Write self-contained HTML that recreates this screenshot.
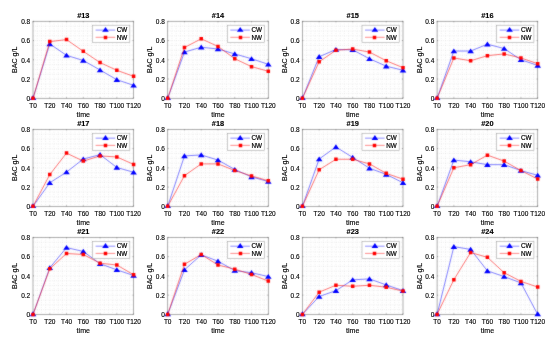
<!DOCTYPE html>
<html><head><meta charset="utf-8"><style>
html,body{margin:0;padding:0;background:#fff;}
svg{display:block;will-change:transform;}
text{font-family:"Liberation Sans", sans-serif;fill:#000;stroke:#000;stroke-width:0.13px;}
.lt{font-size:6.3px;stroke-width:0.2px;}
.ti{font-size:7.4px;font-weight:bold;text-anchor:middle;}
.xt{font-size:6.5px;text-anchor:middle;}
.yt{font-size:6.5px;text-anchor:end;}
.xl,.yl{font-size:7.1px;text-anchor:middle;}
.gr{stroke:#cdcdcd;stroke-width:0.55;fill:none;}
.bx{fill:none;stroke:#8c8c8c;stroke-width:0.7;}
.tk{stroke:#707070;stroke-width:0.6;fill:none;}
.lb{fill:none;stroke:#00f;stroke-width:0.5;}
.lr{fill:none;stroke:#f00;stroke-width:0.55;}
.mb{fill:#00f;}
.mr{fill:#f00;}
.lg{fill:#fff;stroke:#a0a0a0;stroke-width:0.55;}
.llb{stroke:#00f;stroke-width:0.45;}
.llr{stroke:#f00;stroke-width:0.45;}
</style></head><body>
<svg width="550" height="344" viewBox="0 0 550 344">
<defs><filter id="bl" color-interpolation-filters="sRGB" x="0" y="0" width="550" height="344" filterUnits="userSpaceOnUse"><feConvolveMatrix order="3" kernelMatrix="1 2 1 2 20 2 1 2 1" divisor="32" edgeMode="duplicate" preserveAlpha="false"/></filter></defs>
<rect width="550" height="344" fill="#fff"/>
<g filter="url(#bl)">
<g><path class="gr" stroke-dasharray="0.6 1.81" d="M37.19 21.3V98.3M41.38 21.3V98.3M45.57 21.3V98.3M49.77 21.3V98.3M53.96 21.3V98.3M58.15 21.3V98.3M62.34 21.3V98.3M66.53 21.3V98.3M70.72 21.3V98.3M74.92 21.3V98.3M79.11 21.3V98.3M83.3 21.3V98.3M87.49 21.3V98.3M91.68 21.3V98.3M95.88 21.3V98.3M100.07 21.3V98.3M104.26 21.3V98.3M108.45 21.3V98.3M112.64 21.3V98.3M116.83 21.3V98.3M121.02 21.3V98.3M125.22 21.3V98.3M129.41 21.3V98.3"/><path class="gr" stroke-dasharray="0.6 1.5" d="M33 26.11H133.6M33 30.93H133.6M33 35.74H133.6M33 40.55H133.6M33 45.36H133.6M33 50.17H133.6M33 54.99H133.6M33 59.8H133.6M33 64.61H133.6M33 69.42H133.6M33 74.24H133.6M33 79.05H133.6M33 83.86H133.6M33 88.67H133.6M33 93.49H133.6"/><rect class="bx" x="33" y="21.3" width="100.6" height="77"/><path class="tk" d="M33 98.3v-1M33 21.3v1M49.77 98.3v-1M49.77 21.3v1M66.53 98.3v-1M66.53 21.3v1M83.3 98.3v-1M83.3 21.3v1M100.07 98.3v-1M100.07 21.3v1M116.83 98.3v-1M116.83 21.3v1M133.6 98.3v-1M133.6 21.3v1M33 21.3h1M133.6 21.3h-1M33 40.55h1M133.6 40.55h-1M33 59.8h1M133.6 59.8h-1M33 79.05h1M133.6 79.05h-1M33 98.3h1M133.6 98.3h-1"/><polyline class="lb" points="33,98.3 49.77,43.92 66.53,55.37 83.3,60.47 100.07,70 116.83,79.72 133.6,85.31"/><path class="mb" d="M33 95.2L36.3 100.05L29.7 100.05ZM49.77 41.32L53.07 46.17L46.47 46.17ZM66.53 52.77L69.83 57.62L63.23 57.62ZM83.3 57.87L86.6 62.72L80 62.72ZM100.07 67.4L103.37 72.25L96.77 72.25ZM116.83 77.12L120.13 81.97L113.53 81.97ZM133.6 82.71L136.9 87.56L130.3 87.56Z"/><polyline class="lr" points="33,98.3 49.77,41.61 66.53,39.59 83.3,51.33 100.07,62.59 116.83,70.29 133.6,76.35"/><path class="mr" d="M31.25 96.55h3.5v3.5h-3.5ZM48.02 39.86h3.5v3.5h-3.5ZM64.78 37.84h3.5v3.5h-3.5ZM81.55 49.58h3.5v3.5h-3.5ZM98.32 60.84h3.5v3.5h-3.5ZM115.08 68.54h3.5v3.5h-3.5ZM131.85 74.6h3.5v3.5h-3.5Z"/><rect class="lg" x="92.6" y="25.2" width="37.2" height="17.2"/><path class="llb" d="M95.6 30.1H115.2"/><path class="llr" d="M95.6 37.3H115.2"/><path class="mb" d="M105.5 27L108.8 31.85L102.2 31.85Z"/><path class="mr" d="M103.75 35.75h3.5v3.5h-3.5Z"/></g>
<g><path class="gr" stroke-dasharray="0.6 1.81" d="M171.89 21.3V98.3M176.08 21.3V98.3M180.27 21.3V98.3M184.47 21.3V98.3M188.66 21.3V98.3M192.85 21.3V98.3M197.04 21.3V98.3M201.23 21.3V98.3M205.42 21.3V98.3M209.62 21.3V98.3M213.81 21.3V98.3M218 21.3V98.3M222.19 21.3V98.3M226.38 21.3V98.3M230.57 21.3V98.3M234.77 21.3V98.3M238.96 21.3V98.3M243.15 21.3V98.3M247.34 21.3V98.3M251.53 21.3V98.3M255.72 21.3V98.3M259.92 21.3V98.3M264.11 21.3V98.3"/><path class="gr" stroke-dasharray="0.6 1.5" d="M167.7 26.11H268.3M167.7 30.93H268.3M167.7 35.74H268.3M167.7 40.55H268.3M167.7 45.36H268.3M167.7 50.17H268.3M167.7 54.99H268.3M167.7 59.8H268.3M167.7 64.61H268.3M167.7 69.42H268.3M167.7 74.24H268.3M167.7 79.05H268.3M167.7 83.86H268.3M167.7 88.67H268.3M167.7 93.49H268.3"/><rect class="bx" x="167.7" y="21.3" width="100.6" height="77"/><path class="tk" d="M167.7 98.3v-1M167.7 21.3v1M184.47 98.3v-1M184.47 21.3v1M201.23 98.3v-1M201.23 21.3v1M218 98.3v-1M218 21.3v1M234.77 98.3v-1M234.77 21.3v1M251.53 98.3v-1M251.53 21.3v1M268.3 98.3v-1M268.3 21.3v1M167.7 21.3h1M268.3 21.3h-1M167.7 40.55h1M268.3 40.55h-1M167.7 59.8h1M268.3 59.8h-1M167.7 79.05h1M268.3 79.05h-1M167.7 98.3h1M268.3 98.3h-1"/><polyline class="lb" points="167.7,98.3 184.47,52.1 201.23,47.19 218,49.02 234.77,53.93 251.53,58.74 268.3,64.32"/><path class="mb" d="M167.7 95.2L171 100.05L164.4 100.05ZM184.47 49.5L187.77 54.35L181.17 54.35ZM201.23 44.59L204.53 49.44L197.93 49.44ZM218 46.42L221.3 51.27L214.7 51.27ZM234.77 51.33L238.07 56.18L231.47 56.18ZM251.53 56.14L254.83 60.99L248.23 60.99ZM268.3 61.72L271.6 66.57L265 66.57Z"/><polyline class="lr" points="167.7,98.3 184.47,47.48 201.23,38.82 218,46.42 234.77,58.74 251.53,66.63 268.3,71.25"/><path class="mr" d="M165.95 96.55h3.5v3.5h-3.5ZM182.72 45.73h3.5v3.5h-3.5ZM199.48 37.07h3.5v3.5h-3.5ZM216.25 44.67h3.5v3.5h-3.5ZM233.02 56.99h3.5v3.5h-3.5ZM249.78 64.88h3.5v3.5h-3.5ZM266.55 69.5h3.5v3.5h-3.5Z"/><rect class="lg" x="227.3" y="25.2" width="37.2" height="17.2"/><path class="llb" d="M230.3 30.1H249.9"/><path class="llr" d="M230.3 37.3H249.9"/><path class="mb" d="M240.2 27L243.5 31.85L236.9 31.85Z"/><path class="mr" d="M238.75 35.75h3.5v3.5h-3.5Z"/></g>
<g><path class="gr" stroke-dasharray="0.6 1.81" d="M306.59 21.3V98.3M310.78 21.3V98.3M314.97 21.3V98.3M319.17 21.3V98.3M323.36 21.3V98.3M327.55 21.3V98.3M331.74 21.3V98.3M335.93 21.3V98.3M340.12 21.3V98.3M344.32 21.3V98.3M348.51 21.3V98.3M352.7 21.3V98.3M356.89 21.3V98.3M361.08 21.3V98.3M365.27 21.3V98.3M369.47 21.3V98.3M373.66 21.3V98.3M377.85 21.3V98.3M382.04 21.3V98.3M386.23 21.3V98.3M390.42 21.3V98.3M394.62 21.3V98.3M398.81 21.3V98.3"/><path class="gr" stroke-dasharray="0.6 1.5" d="M302.4 26.11H403M302.4 30.93H403M302.4 35.74H403M302.4 40.55H403M302.4 45.36H403M302.4 50.17H403M302.4 54.99H403M302.4 59.8H403M302.4 64.61H403M302.4 69.42H403M302.4 74.24H403M302.4 79.05H403M302.4 83.86H403M302.4 88.67H403M302.4 93.49H403"/><rect class="bx" x="302.4" y="21.3" width="100.6" height="77"/><path class="tk" d="M302.4 98.3v-1M302.4 21.3v1M319.17 98.3v-1M319.17 21.3v1M335.93 98.3v-1M335.93 21.3v1M352.7 98.3v-1M352.7 21.3v1M369.47 98.3v-1M369.47 21.3v1M386.23 98.3v-1M386.23 21.3v1M403 98.3v-1M403 21.3v1M302.4 21.3h1M403 21.3h-1M302.4 40.55h1M403 40.55h-1M302.4 59.8h1M403 59.8h-1M302.4 79.05h1M403 79.05h-1M302.4 98.3h1M403 98.3h-1"/><polyline class="lb" points="302.4,98.3 319.17,56.72 335.93,49.5 352.7,49.79 369.47,58.74 386.23,66.15 403,70.29"/><path class="mb" d="M302.4 95.2L305.7 100.05L299.1 100.05ZM319.17 54.12L322.47 58.97L315.87 58.97ZM335.93 46.9L339.23 51.75L332.63 51.75ZM352.7 47.19L356 52.04L349.4 52.04ZM369.47 56.14L372.77 60.99L366.17 60.99ZM386.23 63.55L389.53 68.4L382.93 68.4ZM403 67.69L406.3 72.54L399.7 72.54Z"/><polyline class="lr" points="302.4,98.3 319.17,61.82 335.93,50.27 352.7,49.02 369.47,52.1 386.23,60.76 403,67.69"/><path class="mr" d="M300.65 96.55h3.5v3.5h-3.5ZM317.42 60.07h3.5v3.5h-3.5ZM334.18 48.52h3.5v3.5h-3.5ZM350.95 47.27h3.5v3.5h-3.5ZM367.72 50.35h3.5v3.5h-3.5ZM384.48 59.01h3.5v3.5h-3.5ZM401.25 65.94h3.5v3.5h-3.5Z"/><rect class="lg" x="362" y="25.2" width="37.2" height="17.2"/><path class="llb" d="M365 30.1H384.6"/><path class="llr" d="M365 37.3H384.6"/><path class="mb" d="M374.9 27L378.2 31.85L371.6 31.85Z"/><path class="mr" d="M372.75 35.75h3.5v3.5h-3.5Z"/></g>
<g><path class="gr" stroke-dasharray="0.6 1.81" d="M441.29 21.3V98.3M445.48 21.3V98.3M449.67 21.3V98.3M453.87 21.3V98.3M458.06 21.3V98.3M462.25 21.3V98.3M466.44 21.3V98.3M470.63 21.3V98.3M474.82 21.3V98.3M479.02 21.3V98.3M483.21 21.3V98.3M487.4 21.3V98.3M491.59 21.3V98.3M495.78 21.3V98.3M499.97 21.3V98.3M504.17 21.3V98.3M508.36 21.3V98.3M512.55 21.3V98.3M516.74 21.3V98.3M520.93 21.3V98.3M525.12 21.3V98.3M529.32 21.3V98.3M533.51 21.3V98.3"/><path class="gr" stroke-dasharray="0.6 1.5" d="M437.1 26.11H537.7M437.1 30.93H537.7M437.1 35.74H537.7M437.1 40.55H537.7M437.1 45.36H537.7M437.1 50.17H537.7M437.1 54.99H537.7M437.1 59.8H537.7M437.1 64.61H537.7M437.1 69.42H537.7M437.1 74.24H537.7M437.1 79.05H537.7M437.1 83.86H537.7M437.1 88.67H537.7M437.1 93.49H537.7"/><rect class="bx" x="437.1" y="21.3" width="100.6" height="77"/><path class="tk" d="M437.1 98.3v-1M437.1 21.3v1M453.87 98.3v-1M453.87 21.3v1M470.63 98.3v-1M470.63 21.3v1M487.4 98.3v-1M487.4 21.3v1M504.17 98.3v-1M504.17 21.3v1M520.93 98.3v-1M520.93 21.3v1M537.7 98.3v-1M537.7 21.3v1M437.1 21.3h1M537.7 21.3h-1M437.1 40.55h1M537.7 40.55h-1M437.1 59.8h1M537.7 59.8h-1M437.1 79.05h1M537.7 79.05h-1M437.1 98.3h1M537.7 98.3h-1"/><polyline class="lb" points="437.1,98.3 453.87,51.04 470.63,51.04 487.4,44.21 504.17,48.54 520.93,59.8 537.7,65.38"/><path class="mb" d="M437.1 95.2L440.4 100.05L433.8 100.05ZM453.87 48.44L457.17 53.29L450.57 53.29ZM470.63 48.44L473.93 53.29L467.33 53.29ZM487.4 41.61L490.7 46.46L484.1 46.46ZM504.17 45.94L507.47 50.79L500.87 50.79ZM520.93 57.2L524.23 62.05L517.63 62.05ZM537.7 62.78L541 67.63L534.4 67.63Z"/><polyline class="lr" points="437.1,98.3 453.87,57.97 470.63,60.76 487.4,55.66 504.17,53.93 520.93,57.97 537.7,63.65"/><path class="mr" d="M435.35 96.55h3.5v3.5h-3.5ZM452.12 56.22h3.5v3.5h-3.5ZM468.88 59.01h3.5v3.5h-3.5ZM485.65 53.91h3.5v3.5h-3.5ZM502.42 52.18h3.5v3.5h-3.5ZM519.18 56.22h3.5v3.5h-3.5ZM535.95 61.9h3.5v3.5h-3.5Z"/><rect class="lg" x="496.7" y="25.2" width="37.2" height="17.2"/><path class="llb" d="M499.7 30.1H519.3"/><path class="llr" d="M499.7 37.3H519.3"/><path class="mb" d="M509.6 27L512.9 31.85L506.3 31.85Z"/><path class="mr" d="M507.75 35.75h3.5v3.5h-3.5Z"/></g>
<g><path class="gr" stroke-dasharray="0.6 1.81" d="M37.19 129.35V206.35M41.38 129.35V206.35M45.57 129.35V206.35M49.77 129.35V206.35M53.96 129.35V206.35M58.15 129.35V206.35M62.34 129.35V206.35M66.53 129.35V206.35M70.72 129.35V206.35M74.92 129.35V206.35M79.11 129.35V206.35M83.3 129.35V206.35M87.49 129.35V206.35M91.68 129.35V206.35M95.88 129.35V206.35M100.07 129.35V206.35M104.26 129.35V206.35M108.45 129.35V206.35M112.64 129.35V206.35M116.83 129.35V206.35M121.02 129.35V206.35M125.22 129.35V206.35M129.41 129.35V206.35"/><path class="gr" stroke-dasharray="0.6 1.5" d="M33 134.16H133.6M33 138.97H133.6M33 143.79H133.6M33 148.6H133.6M33 153.41H133.6M33 158.22H133.6M33 163.04H133.6M33 167.85H133.6M33 172.66H133.6M33 177.47H133.6M33 182.29H133.6M33 187.1H133.6M33 191.91H133.6M33 196.72H133.6M33 201.54H133.6"/><rect class="bx" x="33" y="129.35" width="100.6" height="77"/><path class="tk" d="M33 206.35v-1M33 129.35v1M49.77 206.35v-1M49.77 129.35v1M66.53 206.35v-1M66.53 129.35v1M83.3 206.35v-1M83.3 129.35v1M100.07 206.35v-1M100.07 129.35v1M116.83 206.35v-1M116.83 129.35v1M133.6 206.35v-1M133.6 129.35v1M33 129.35h1M133.6 129.35h-1M33 148.6h1M133.6 148.6h-1M33 167.85h1M133.6 167.85h-1M33 187.1h1M133.6 187.1h-1M33 206.35h1M133.6 206.35h-1"/><polyline class="lb" points="33,206.35 49.77,182.77 66.53,172.09 83.3,159 100.07,154.66 116.83,167.47 133.6,172.28"/><path class="mb" d="M33 203.25L36.3 208.1L29.7 208.1ZM49.77 180.17L53.07 185.02L46.47 185.02ZM66.53 169.49L69.83 174.34L63.23 174.34ZM83.3 156.4L86.6 161.25L80 161.25ZM100.07 152.06L103.37 156.91L96.77 156.91ZM116.83 164.87L120.13 169.72L113.53 169.72ZM133.6 169.68L136.9 174.53L130.3 174.53Z"/><polyline class="lr" points="33,206.35 49.77,174.59 66.53,153.12 83.3,161.11 100.07,155.91 116.83,156.97 133.6,164.38"/><path class="mr" d="M31.25 204.6h3.5v3.5h-3.5ZM48.02 172.84h3.5v3.5h-3.5ZM64.78 151.37h3.5v3.5h-3.5ZM81.55 159.36h3.5v3.5h-3.5ZM98.32 154.16h3.5v3.5h-3.5ZM115.08 155.22h3.5v3.5h-3.5ZM131.85 162.63h3.5v3.5h-3.5Z"/><rect class="lg" x="92.6" y="133.25" width="37.2" height="17.2"/><path class="llb" d="M95.6 138.15H115.2"/><path class="llr" d="M95.6 145.35H115.2"/><path class="mb" d="M105.5 135.05L108.8 139.9L102.2 139.9Z"/><path class="mr" d="M103.75 143.75h3.5v3.5h-3.5Z"/></g>
<g><path class="gr" stroke-dasharray="0.6 1.81" d="M171.89 129.35V206.35M176.08 129.35V206.35M180.27 129.35V206.35M184.47 129.35V206.35M188.66 129.35V206.35M192.85 129.35V206.35M197.04 129.35V206.35M201.23 129.35V206.35M205.42 129.35V206.35M209.62 129.35V206.35M213.81 129.35V206.35M218 129.35V206.35M222.19 129.35V206.35M226.38 129.35V206.35M230.57 129.35V206.35M234.77 129.35V206.35M238.96 129.35V206.35M243.15 129.35V206.35M247.34 129.35V206.35M251.53 129.35V206.35M255.72 129.35V206.35M259.92 129.35V206.35M264.11 129.35V206.35"/><path class="gr" stroke-dasharray="0.6 1.5" d="M167.7 134.16H268.3M167.7 138.97H268.3M167.7 143.79H268.3M167.7 148.6H268.3M167.7 153.41H268.3M167.7 158.22H268.3M167.7 163.04H268.3M167.7 167.85H268.3M167.7 172.66H268.3M167.7 177.47H268.3M167.7 182.29H268.3M167.7 187.1H268.3M167.7 191.91H268.3M167.7 196.72H268.3M167.7 201.54H268.3"/><rect class="bx" x="167.7" y="129.35" width="100.6" height="77"/><path class="tk" d="M167.7 206.35v-1M167.7 129.35v1M184.47 206.35v-1M184.47 129.35v1M201.23 206.35v-1M201.23 129.35v1M218 206.35v-1M218 129.35v1M234.77 206.35v-1M234.77 129.35v1M251.53 206.35v-1M251.53 129.35v1M268.3 206.35v-1M268.3 129.35v1M167.7 129.35h1M268.3 129.35h-1M167.7 148.6h1M268.3 148.6h-1M167.7 167.85h1M268.3 167.85h-1M167.7 187.1h1M268.3 187.1h-1M167.7 206.35h1M268.3 206.35h-1"/><polyline class="lb" points="167.7,206.35 184.47,155.91 201.23,154.95 218,160.05 234.77,169.49 251.53,176.9 268.3,181.52"/><path class="mb" d="M167.7 203.25L171 208.1L164.4 208.1ZM184.47 153.31L187.77 158.16L181.17 158.16ZM201.23 152.35L204.53 157.2L197.93 157.2ZM218 157.45L221.3 162.3L214.7 162.3ZM234.77 166.89L238.07 171.74L231.47 171.74ZM251.53 174.3L254.83 179.15L248.23 179.15ZM268.3 178.92L271.6 183.77L265 183.77Z"/><polyline class="lr" points="167.7,206.35 184.47,175.65 201.23,163.9 218,163.9 234.77,170.55 251.53,175.94 268.3,180.75"/><path class="mr" d="M165.95 204.6h3.5v3.5h-3.5ZM182.72 173.9h3.5v3.5h-3.5ZM199.48 162.15h3.5v3.5h-3.5ZM216.25 162.15h3.5v3.5h-3.5ZM233.02 168.8h3.5v3.5h-3.5ZM249.78 174.19h3.5v3.5h-3.5ZM266.55 179h3.5v3.5h-3.5Z"/><rect class="lg" x="227.3" y="133.25" width="37.2" height="17.2"/><path class="llb" d="M230.3 138.15H249.9"/><path class="llr" d="M230.3 145.35H249.9"/><path class="mb" d="M240.2 135.05L243.5 139.9L236.9 139.9Z"/><path class="mr" d="M238.75 143.75h3.5v3.5h-3.5Z"/></g>
<g><path class="gr" stroke-dasharray="0.6 1.81" d="M306.59 129.35V206.35M310.78 129.35V206.35M314.97 129.35V206.35M319.17 129.35V206.35M323.36 129.35V206.35M327.55 129.35V206.35M331.74 129.35V206.35M335.93 129.35V206.35M340.12 129.35V206.35M344.32 129.35V206.35M348.51 129.35V206.35M352.7 129.35V206.35M356.89 129.35V206.35M361.08 129.35V206.35M365.27 129.35V206.35M369.47 129.35V206.35M373.66 129.35V206.35M377.85 129.35V206.35M382.04 129.35V206.35M386.23 129.35V206.35M390.42 129.35V206.35M394.62 129.35V206.35M398.81 129.35V206.35"/><path class="gr" stroke-dasharray="0.6 1.5" d="M302.4 134.16H403M302.4 138.97H403M302.4 143.79H403M302.4 148.6H403M302.4 153.41H403M302.4 158.22H403M302.4 163.04H403M302.4 167.85H403M302.4 172.66H403M302.4 177.47H403M302.4 182.29H403M302.4 187.1H403M302.4 191.91H403M302.4 196.72H403M302.4 201.54H403"/><rect class="bx" x="302.4" y="129.35" width="100.6" height="77"/><path class="tk" d="M302.4 206.35v-1M302.4 129.35v1M319.17 206.35v-1M319.17 129.35v1M335.93 206.35v-1M335.93 129.35v1M352.7 206.35v-1M352.7 129.35v1M369.47 206.35v-1M369.47 129.35v1M386.23 206.35v-1M386.23 129.35v1M403 206.35v-1M403 129.35v1M302.4 129.35h1M403 129.35h-1M302.4 148.6h1M403 148.6h-1M302.4 167.85h1M403 167.85h-1M302.4 187.1h1M403 187.1h-1M302.4 206.35h1M403 206.35h-1"/><polyline class="lb" points="302.4,206.35 319.17,159 335.93,146.96 352.7,157.45 369.47,168.23 386.23,174.39 403,182.77"/><path class="mb" d="M302.4 203.25L305.7 208.1L299.1 208.1ZM319.17 156.4L322.47 161.25L315.87 161.25ZM335.93 144.36L339.23 149.21L332.63 149.21ZM352.7 154.85L356 159.7L349.4 159.7ZM369.47 165.63L372.77 170.48L366.17 170.48ZM386.23 171.79L389.53 176.64L382.93 176.64ZM403 180.17L406.3 185.02L399.7 185.02Z"/><polyline class="lr" points="302.4,206.35 319.17,169.77 335.93,159.28 352.7,159.28 369.47,163.9 386.23,173.34 403,179.21"/><path class="mr" d="M300.65 204.6h3.5v3.5h-3.5ZM317.42 168.02h3.5v3.5h-3.5ZM334.18 157.53h3.5v3.5h-3.5ZM350.95 157.53h3.5v3.5h-3.5ZM367.72 162.15h3.5v3.5h-3.5ZM384.48 171.59h3.5v3.5h-3.5ZM401.25 177.46h3.5v3.5h-3.5Z"/><rect class="lg" x="362" y="133.25" width="37.2" height="17.2"/><path class="llb" d="M365 138.15H384.6"/><path class="llr" d="M365 145.35H384.6"/><path class="mb" d="M374.9 135.05L378.2 139.9L371.6 139.9Z"/><path class="mr" d="M372.75 143.75h3.5v3.5h-3.5Z"/></g>
<g><path class="gr" stroke-dasharray="0.6 1.81" d="M441.29 129.35V206.35M445.48 129.35V206.35M449.67 129.35V206.35M453.87 129.35V206.35M458.06 129.35V206.35M462.25 129.35V206.35M466.44 129.35V206.35M470.63 129.35V206.35M474.82 129.35V206.35M479.02 129.35V206.35M483.21 129.35V206.35M487.4 129.35V206.35M491.59 129.35V206.35M495.78 129.35V206.35M499.97 129.35V206.35M504.17 129.35V206.35M508.36 129.35V206.35M512.55 129.35V206.35M516.74 129.35V206.35M520.93 129.35V206.35M525.12 129.35V206.35M529.32 129.35V206.35M533.51 129.35V206.35"/><path class="gr" stroke-dasharray="0.6 1.5" d="M437.1 134.16H537.7M437.1 138.97H537.7M437.1 143.79H537.7M437.1 148.6H537.7M437.1 153.41H537.7M437.1 158.22H537.7M437.1 163.04H537.7M437.1 167.85H537.7M437.1 172.66H537.7M437.1 177.47H537.7M437.1 182.29H537.7M437.1 187.1H537.7M437.1 191.91H537.7M437.1 196.72H537.7M437.1 201.54H537.7"/><rect class="bx" x="437.1" y="129.35" width="100.6" height="77"/><path class="tk" d="M437.1 206.35v-1M437.1 129.35v1M453.87 206.35v-1M453.87 129.35v1M470.63 206.35v-1M470.63 129.35v1M487.4 206.35v-1M487.4 129.35v1M504.17 206.35v-1M504.17 129.35v1M520.93 206.35v-1M520.93 129.35v1M537.7 206.35v-1M537.7 129.35v1M437.1 129.35h1M537.7 129.35h-1M437.1 148.6h1M537.7 148.6h-1M437.1 167.85h1M537.7 167.85h-1M437.1 187.1h1M537.7 187.1h-1M437.1 206.35h1M537.7 206.35h-1"/><polyline class="lb" points="437.1,206.35 453.87,160.05 470.63,161.79 487.4,164.67 504.17,164.67 520.93,170.55 537.7,175.36"/><path class="mb" d="M437.1 203.25L440.4 208.1L433.8 208.1ZM453.87 157.45L457.17 162.3L450.57 162.3ZM470.63 159.19L473.93 164.04L467.33 164.04ZM487.4 162.07L490.7 166.92L484.1 166.92ZM504.17 162.07L507.47 166.92L500.87 166.92ZM520.93 167.95L524.23 172.8L517.63 172.8ZM537.7 172.76L541 177.61L534.4 177.61Z"/><polyline class="lr" points="437.1,206.35 453.87,167.75 470.63,164.67 487.4,155.14 504.17,161.11 520.93,170.55 537.7,179.01"/><path class="mr" d="M435.35 204.6h3.5v3.5h-3.5ZM452.12 166h3.5v3.5h-3.5ZM468.88 162.92h3.5v3.5h-3.5ZM485.65 153.39h3.5v3.5h-3.5ZM502.42 159.36h3.5v3.5h-3.5ZM519.18 168.8h3.5v3.5h-3.5ZM535.95 177.26h3.5v3.5h-3.5Z"/><rect class="lg" x="496.7" y="133.25" width="37.2" height="17.2"/><path class="llb" d="M499.7 138.15H519.3"/><path class="llr" d="M499.7 145.35H519.3"/><path class="mb" d="M509.6 135.05L512.9 139.9L506.3 139.9Z"/><path class="mr" d="M507.75 143.75h3.5v3.5h-3.5Z"/></g>
<g><path class="gr" stroke-dasharray="0.6 1.81" d="M37.19 237.4V314.4M41.38 237.4V314.4M45.57 237.4V314.4M49.77 237.4V314.4M53.96 237.4V314.4M58.15 237.4V314.4M62.34 237.4V314.4M66.53 237.4V314.4M70.72 237.4V314.4M74.92 237.4V314.4M79.11 237.4V314.4M83.3 237.4V314.4M87.49 237.4V314.4M91.68 237.4V314.4M95.88 237.4V314.4M100.07 237.4V314.4M104.26 237.4V314.4M108.45 237.4V314.4M112.64 237.4V314.4M116.83 237.4V314.4M121.02 237.4V314.4M125.22 237.4V314.4M129.41 237.4V314.4"/><path class="gr" stroke-dasharray="0.6 1.5" d="M33 242.21H133.6M33 247.03H133.6M33 251.84H133.6M33 256.65H133.6M33 261.46H133.6M33 266.27H133.6M33 271.09H133.6M33 275.9H133.6M33 280.71H133.6M33 285.52H133.6M33 290.34H133.6M33 295.15H133.6M33 299.96H133.6M33 304.77H133.6M33 309.59H133.6"/><rect class="bx" x="33" y="237.4" width="100.6" height="77"/><path class="tk" d="M33 314.4v-1M33 237.4v1M49.77 314.4v-1M49.77 237.4v1M66.53 314.4v-1M66.53 237.4v1M83.3 314.4v-1M83.3 237.4v1M100.07 314.4v-1M100.07 237.4v1M116.83 314.4v-1M116.83 237.4v1M133.6 314.4v-1M133.6 237.4v1M33 237.4h1M133.6 237.4h-1M33 256.65h1M133.6 256.65h-1M33 275.9h1M133.6 275.9h-1M33 295.15h1M133.6 295.15h-1M33 314.4h1M133.6 314.4h-1"/><polyline class="lb" points="33,314.4 49.77,267.81 66.53,247.6 83.3,251.45 100.07,263.77 116.83,269.84 133.6,275.51"/><path class="mb" d="M33 311.3L36.3 316.15L29.7 316.15ZM49.77 265.21L53.07 270.06L46.47 270.06ZM66.53 245L69.83 249.85L63.23 249.85ZM83.3 248.85L86.6 253.7L80 253.7ZM100.07 261.17L103.37 266.02L96.77 266.02ZM116.83 267.24L120.13 272.09L113.53 272.09ZM133.6 272.91L136.9 277.76L130.3 277.76Z"/><polyline class="lr" points="33,314.4 49.77,268.87 66.53,253.47 83.3,254.53 100.07,263.19 116.83,265.02 133.6,274.75"/><path class="mr" d="M31.25 312.65h3.5v3.5h-3.5ZM48.02 267.12h3.5v3.5h-3.5ZM64.78 251.72h3.5v3.5h-3.5ZM81.55 252.78h3.5v3.5h-3.5ZM98.32 261.44h3.5v3.5h-3.5ZM115.08 263.27h3.5v3.5h-3.5ZM131.85 273h3.5v3.5h-3.5Z"/><rect class="lg" x="92.6" y="241.3" width="37.2" height="17.2"/><path class="llb" d="M95.6 246.2H115.2"/><path class="llr" d="M95.6 253.4H115.2"/><path class="mb" d="M105.5 243.1L108.8 247.95L102.2 247.95Z"/><path class="mr" d="M103.75 251.75h3.5v3.5h-3.5Z"/></g>
<g><path class="gr" stroke-dasharray="0.6 1.81" d="M171.89 237.4V314.4M176.08 237.4V314.4M180.27 237.4V314.4M184.47 237.4V314.4M188.66 237.4V314.4M192.85 237.4V314.4M197.04 237.4V314.4M201.23 237.4V314.4M205.42 237.4V314.4M209.62 237.4V314.4M213.81 237.4V314.4M218 237.4V314.4M222.19 237.4V314.4M226.38 237.4V314.4M230.57 237.4V314.4M234.77 237.4V314.4M238.96 237.4V314.4M243.15 237.4V314.4M247.34 237.4V314.4M251.53 237.4V314.4M255.72 237.4V314.4M259.92 237.4V314.4M264.11 237.4V314.4"/><path class="gr" stroke-dasharray="0.6 1.5" d="M167.7 242.21H268.3M167.7 247.03H268.3M167.7 251.84H268.3M167.7 256.65H268.3M167.7 261.46H268.3M167.7 266.27H268.3M167.7 271.09H268.3M167.7 275.9H268.3M167.7 280.71H268.3M167.7 285.52H268.3M167.7 290.34H268.3M167.7 295.15H268.3M167.7 299.96H268.3M167.7 304.77H268.3M167.7 309.59H268.3"/><rect class="bx" x="167.7" y="237.4" width="100.6" height="77"/><path class="tk" d="M167.7 314.4v-1M167.7 237.4v1M184.47 314.4v-1M184.47 237.4v1M201.23 314.4v-1M201.23 237.4v1M218 314.4v-1M218 237.4v1M234.77 314.4v-1M234.77 237.4v1M251.53 314.4v-1M251.53 237.4v1M268.3 314.4v-1M268.3 237.4v1M167.7 237.4h1M268.3 237.4h-1M167.7 256.65h1M268.3 256.65h-1M167.7 275.9h1M268.3 275.9h-1M167.7 295.15h1M268.3 295.15h-1M167.7 314.4h1M268.3 314.4h-1"/><polyline class="lb" points="167.7,314.4 184.47,269.84 201.23,254.82 218,261.17 234.77,270.61 251.53,272.72 268.3,276.57"/><path class="mb" d="M167.7 311.3L171 316.15L164.4 316.15ZM184.47 267.24L187.77 272.09L181.17 272.09ZM201.23 252.22L204.53 257.07L197.93 257.07ZM218 258.57L221.3 263.42L214.7 263.42ZM234.77 268.01L238.07 272.86L231.47 272.86ZM251.53 270.12L254.83 274.97L248.23 274.97ZM268.3 273.97L271.6 278.82L265 278.82Z"/><polyline class="lr" points="167.7,314.4 184.47,264.25 201.23,254.53 218,265.02 234.77,269.16 251.53,274.46 268.3,281.1"/><path class="mr" d="M165.95 312.65h3.5v3.5h-3.5ZM182.72 262.5h3.5v3.5h-3.5ZM199.48 252.78h3.5v3.5h-3.5ZM216.25 263.27h3.5v3.5h-3.5ZM233.02 267.41h3.5v3.5h-3.5ZM249.78 272.71h3.5v3.5h-3.5ZM266.55 279.35h3.5v3.5h-3.5Z"/><rect class="lg" x="227.3" y="241.3" width="37.2" height="17.2"/><path class="llb" d="M230.3 246.2H249.9"/><path class="llr" d="M230.3 253.4H249.9"/><path class="mb" d="M240.2 243.1L243.5 247.95L236.9 247.95Z"/><path class="mr" d="M238.75 251.75h3.5v3.5h-3.5Z"/></g>
<g><path class="gr" stroke-dasharray="0.6 1.81" d="M306.59 237.4V314.4M310.78 237.4V314.4M314.97 237.4V314.4M319.17 237.4V314.4M323.36 237.4V314.4M327.55 237.4V314.4M331.74 237.4V314.4M335.93 237.4V314.4M340.12 237.4V314.4M344.32 237.4V314.4M348.51 237.4V314.4M352.7 237.4V314.4M356.89 237.4V314.4M361.08 237.4V314.4M365.27 237.4V314.4M369.47 237.4V314.4M373.66 237.4V314.4M377.85 237.4V314.4M382.04 237.4V314.4M386.23 237.4V314.4M390.42 237.4V314.4M394.62 237.4V314.4M398.81 237.4V314.4"/><path class="gr" stroke-dasharray="0.6 1.5" d="M302.4 242.21H403M302.4 247.03H403M302.4 251.84H403M302.4 256.65H403M302.4 261.46H403M302.4 266.27H403M302.4 271.09H403M302.4 275.9H403M302.4 280.71H403M302.4 285.52H403M302.4 290.34H403M302.4 295.15H403M302.4 299.96H403M302.4 304.77H403M302.4 309.59H403"/><rect class="bx" x="302.4" y="237.4" width="100.6" height="77"/><path class="tk" d="M302.4 314.4v-1M302.4 237.4v1M319.17 314.4v-1M319.17 237.4v1M335.93 314.4v-1M335.93 237.4v1M352.7 314.4v-1M352.7 237.4v1M369.47 314.4v-1M369.47 237.4v1M386.23 314.4v-1M386.23 237.4v1M403 314.4v-1M403 237.4v1M302.4 237.4h1M403 237.4h-1M302.4 256.65h1M403 256.65h-1M302.4 275.9h1M403 275.9h-1M302.4 295.15h1M403 295.15h-1M302.4 314.4h1M403 314.4h-1"/><polyline class="lb" points="302.4,314.4 319.17,296.5 335.93,290.63 352.7,279.85 369.47,278.88 386.23,284.95 403,290.63"/><path class="mb" d="M302.4 311.3L305.7 316.15L299.1 316.15ZM319.17 293.9L322.47 298.75L315.87 298.75ZM335.93 288.03L339.23 292.88L332.63 292.88ZM352.7 277.25L356 282.1L349.4 282.1ZM369.47 276.28L372.77 281.13L366.17 281.13ZM386.23 282.35L389.53 287.2L382.93 287.2ZM403 288.03L406.3 292.88L399.7 292.88Z"/><polyline class="lr" points="302.4,314.4 319.17,292.17 335.93,285.24 352.7,286.29 369.47,285.24 386.23,287.26 403,291.11"/><path class="mr" d="M300.65 312.65h3.5v3.5h-3.5ZM317.42 290.42h3.5v3.5h-3.5ZM334.18 283.49h3.5v3.5h-3.5ZM350.95 284.54h3.5v3.5h-3.5ZM367.72 283.49h3.5v3.5h-3.5ZM384.48 285.51h3.5v3.5h-3.5ZM401.25 289.36h3.5v3.5h-3.5Z"/><rect class="lg" x="362" y="241.3" width="37.2" height="17.2"/><path class="llb" d="M365 246.2H384.6"/><path class="llr" d="M365 253.4H384.6"/><path class="mb" d="M374.9 243.1L378.2 247.95L371.6 247.95Z"/><path class="mr" d="M372.75 251.75h3.5v3.5h-3.5Z"/></g>
<g><path class="gr" stroke-dasharray="0.6 1.81" d="M441.29 237.4V314.4M445.48 237.4V314.4M449.67 237.4V314.4M453.87 237.4V314.4M458.06 237.4V314.4M462.25 237.4V314.4M466.44 237.4V314.4M470.63 237.4V314.4M474.82 237.4V314.4M479.02 237.4V314.4M483.21 237.4V314.4M487.4 237.4V314.4M491.59 237.4V314.4M495.78 237.4V314.4M499.97 237.4V314.4M504.17 237.4V314.4M508.36 237.4V314.4M512.55 237.4V314.4M516.74 237.4V314.4M520.93 237.4V314.4M525.12 237.4V314.4M529.32 237.4V314.4M533.51 237.4V314.4"/><path class="gr" stroke-dasharray="0.6 1.5" d="M437.1 242.21H537.7M437.1 247.03H537.7M437.1 251.84H537.7M437.1 256.65H537.7M437.1 261.46H537.7M437.1 266.27H537.7M437.1 271.09H537.7M437.1 275.9H537.7M437.1 280.71H537.7M437.1 285.52H537.7M437.1 290.34H537.7M437.1 295.15H537.7M437.1 299.96H537.7M437.1 304.77H537.7M437.1 309.59H537.7"/><rect class="bx" x="437.1" y="237.4" width="100.6" height="77"/><path class="tk" d="M437.1 314.4v-1M437.1 237.4v1M453.87 314.4v-1M453.87 237.4v1M470.63 314.4v-1M470.63 237.4v1M487.4 314.4v-1M487.4 237.4v1M504.17 314.4v-1M504.17 237.4v1M520.93 314.4v-1M520.93 237.4v1M537.7 314.4v-1M537.7 237.4v1M437.1 237.4h1M537.7 237.4h-1M437.1 256.65h1M537.7 256.65h-1M437.1 275.9h1M537.7 275.9h-1M437.1 295.15h1M537.7 295.15h-1M437.1 314.4h1M537.7 314.4h-1"/><polyline class="lb" points="437.1,314.4 453.87,246.64 470.63,249.43 487.4,270.89 504.17,276.57 520.93,282.93 537.7,314.4"/><path class="mb" d="M437.1 311.3L440.4 316.15L433.8 316.15ZM453.87 244.04L457.17 248.89L450.57 248.89ZM470.63 246.83L473.93 251.68L467.33 251.68ZM487.4 268.29L490.7 273.14L484.1 273.14ZM504.17 273.97L507.47 278.82L500.87 278.82ZM520.93 280.33L524.23 285.18L517.63 285.18ZM537.7 311.3L541 316.15L534.4 316.15Z"/><polyline class="lr" points="437.1,314.4 453.87,279.65 470.63,252.51 487.4,257.32 504.17,272.72 520.93,281.39 537.7,287.06"/><path class="mr" d="M435.35 312.65h3.5v3.5h-3.5ZM452.12 277.9h3.5v3.5h-3.5ZM468.88 250.76h3.5v3.5h-3.5ZM485.65 255.57h3.5v3.5h-3.5ZM502.42 270.97h3.5v3.5h-3.5ZM519.18 279.64h3.5v3.5h-3.5ZM535.95 285.31h3.5v3.5h-3.5Z"/><rect class="lg" x="496.7" y="241.3" width="37.2" height="17.2"/><path class="llb" d="M499.7 246.2H519.3"/><path class="llr" d="M499.7 253.4H519.3"/><path class="mb" d="M509.6 243.1L512.9 247.95L506.3 247.95Z"/><path class="mr" d="M507.75 251.75h3.5v3.5h-3.5Z"/></g>
</g>
<g>
<text class="lt" x="116.8" y="32.3">CW</text><text class="lt" x="116.8" y="39.5">NW</text><text class="ti" x="83.3" y="18.3">#13</text><text class="xt" x="33" y="107.7">T0</text><text class="xt" x="49.77" y="107.7">T20</text><text class="xt" x="66.53" y="107.7">T40</text><text class="xt" x="83.3" y="107.7">T60</text><text class="xt" x="100.07" y="107.7">T80</text><text class="xt" x="116.83" y="107.7">T100</text><text class="xt" x="133.6" y="107.7">T120</text><text class="yt" x="30.2" y="101">0</text><text class="yt" x="30.2" y="81.75">0.2</text><text class="yt" x="30.2" y="62.5">0.4</text><text class="yt" x="30.2" y="43.25">0.6</text><text class="yt" x="30.2" y="24">0.8</text><text class="xl" x="83.3" y="116.9">time</text><text class="yl" transform="translate(17.4 59.8) rotate(-90)">BAC g/L</text>
<text class="lt" x="251.5" y="32.3">CW</text><text class="lt" x="251.5" y="39.5">NW</text><text class="ti" x="218" y="18.3">#14</text><text class="xt" x="167.7" y="107.7">T0</text><text class="xt" x="184.47" y="107.7">T20</text><text class="xt" x="201.23" y="107.7">T40</text><text class="xt" x="218" y="107.7">T60</text><text class="xt" x="234.77" y="107.7">T80</text><text class="xt" x="251.53" y="107.7">T100</text><text class="xt" x="268.3" y="107.7">T120</text><text class="yt" x="164.9" y="101">0</text><text class="yt" x="164.9" y="81.75">0.2</text><text class="yt" x="164.9" y="62.5">0.4</text><text class="yt" x="164.9" y="43.25">0.6</text><text class="yt" x="164.9" y="24">0.8</text><text class="xl" x="218" y="116.9">time</text><text class="yl" transform="translate(152.1 59.8) rotate(-90)">BAC g/L</text>
<text class="lt" x="386.2" y="32.3">CW</text><text class="lt" x="386.2" y="39.5">NW</text><text class="ti" x="352.7" y="18.3">#15</text><text class="xt" x="302.4" y="107.7">T0</text><text class="xt" x="319.17" y="107.7">T20</text><text class="xt" x="335.93" y="107.7">T40</text><text class="xt" x="352.7" y="107.7">T60</text><text class="xt" x="369.47" y="107.7">T80</text><text class="xt" x="386.23" y="107.7">T100</text><text class="xt" x="403" y="107.7">T120</text><text class="yt" x="299.6" y="101">0</text><text class="yt" x="299.6" y="81.75">0.2</text><text class="yt" x="299.6" y="62.5">0.4</text><text class="yt" x="299.6" y="43.25">0.6</text><text class="yt" x="299.6" y="24">0.8</text><text class="xl" x="352.7" y="116.9">time</text><text class="yl" transform="translate(286.8 59.8) rotate(-90)">BAC g/L</text>
<text class="lt" x="520.9" y="32.3">CW</text><text class="lt" x="520.9" y="39.5">NW</text><text class="ti" x="487.4" y="18.3">#16</text><text class="xt" x="437.1" y="107.7">T0</text><text class="xt" x="453.87" y="107.7">T20</text><text class="xt" x="470.63" y="107.7">T40</text><text class="xt" x="487.4" y="107.7">T60</text><text class="xt" x="504.17" y="107.7">T80</text><text class="xt" x="520.93" y="107.7">T100</text><text class="xt" x="537.7" y="107.7">T120</text><text class="yt" x="434.3" y="101">0</text><text class="yt" x="434.3" y="81.75">0.2</text><text class="yt" x="434.3" y="62.5">0.4</text><text class="yt" x="434.3" y="43.25">0.6</text><text class="yt" x="434.3" y="24">0.8</text><text class="xl" x="487.4" y="116.9">time</text><text class="yl" transform="translate(421.5 59.8) rotate(-90)">BAC g/L</text>
<text class="lt" x="116.8" y="140.35">CW</text><text class="lt" x="116.8" y="147.55">NW</text><text class="ti" x="83.3" y="126.35">#17</text><text class="xt" x="33" y="215.75">T0</text><text class="xt" x="49.77" y="215.75">T20</text><text class="xt" x="66.53" y="215.75">T40</text><text class="xt" x="83.3" y="215.75">T60</text><text class="xt" x="100.07" y="215.75">T80</text><text class="xt" x="116.83" y="215.75">T100</text><text class="xt" x="133.6" y="215.75">T120</text><text class="yt" x="30.2" y="209.05">0</text><text class="yt" x="30.2" y="189.8">0.2</text><text class="yt" x="30.2" y="170.55">0.4</text><text class="yt" x="30.2" y="151.3">0.6</text><text class="yt" x="30.2" y="132.05">0.8</text><text class="xl" x="83.3" y="224.95">time</text><text class="yl" transform="translate(17.4 167.85) rotate(-90)">BAC g/L</text>
<text class="lt" x="251.5" y="140.35">CW</text><text class="lt" x="251.5" y="147.55">NW</text><text class="ti" x="218" y="126.35">#18</text><text class="xt" x="167.7" y="215.75">T0</text><text class="xt" x="184.47" y="215.75">T20</text><text class="xt" x="201.23" y="215.75">T40</text><text class="xt" x="218" y="215.75">T60</text><text class="xt" x="234.77" y="215.75">T80</text><text class="xt" x="251.53" y="215.75">T100</text><text class="xt" x="268.3" y="215.75">T120</text><text class="yt" x="164.9" y="209.05">0</text><text class="yt" x="164.9" y="189.8">0.2</text><text class="yt" x="164.9" y="170.55">0.4</text><text class="yt" x="164.9" y="151.3">0.6</text><text class="yt" x="164.9" y="132.05">0.8</text><text class="xl" x="218" y="224.95">time</text><text class="yl" transform="translate(152.1 167.85) rotate(-90)">BAC g/L</text>
<text class="lt" x="386.2" y="140.35">CW</text><text class="lt" x="386.2" y="147.55">NW</text><text class="ti" x="352.7" y="126.35">#19</text><text class="xt" x="302.4" y="215.75">T0</text><text class="xt" x="319.17" y="215.75">T20</text><text class="xt" x="335.93" y="215.75">T40</text><text class="xt" x="352.7" y="215.75">T60</text><text class="xt" x="369.47" y="215.75">T80</text><text class="xt" x="386.23" y="215.75">T100</text><text class="xt" x="403" y="215.75">T120</text><text class="yt" x="299.6" y="209.05">0</text><text class="yt" x="299.6" y="189.8">0.2</text><text class="yt" x="299.6" y="170.55">0.4</text><text class="yt" x="299.6" y="151.3">0.6</text><text class="yt" x="299.6" y="132.05">0.8</text><text class="xl" x="352.7" y="224.95">time</text><text class="yl" transform="translate(286.8 167.85) rotate(-90)">BAC g/L</text>
<text class="lt" x="520.9" y="140.35">CW</text><text class="lt" x="520.9" y="147.55">NW</text><text class="ti" x="487.4" y="126.35">#20</text><text class="xt" x="437.1" y="215.75">T0</text><text class="xt" x="453.87" y="215.75">T20</text><text class="xt" x="470.63" y="215.75">T40</text><text class="xt" x="487.4" y="215.75">T60</text><text class="xt" x="504.17" y="215.75">T80</text><text class="xt" x="520.93" y="215.75">T100</text><text class="xt" x="537.7" y="215.75">T120</text><text class="yt" x="434.3" y="209.05">0</text><text class="yt" x="434.3" y="189.8">0.2</text><text class="yt" x="434.3" y="170.55">0.4</text><text class="yt" x="434.3" y="151.3">0.6</text><text class="yt" x="434.3" y="132.05">0.8</text><text class="xl" x="487.4" y="224.95">time</text><text class="yl" transform="translate(421.5 167.85) rotate(-90)">BAC g/L</text>
<text class="lt" x="116.8" y="248.4">CW</text><text class="lt" x="116.8" y="255.6">NW</text><text class="ti" x="83.3" y="234.4">#21</text><text class="xt" x="33" y="323.8">T0</text><text class="xt" x="49.77" y="323.8">T20</text><text class="xt" x="66.53" y="323.8">T40</text><text class="xt" x="83.3" y="323.8">T60</text><text class="xt" x="100.07" y="323.8">T80</text><text class="xt" x="116.83" y="323.8">T100</text><text class="xt" x="133.6" y="323.8">T120</text><text class="yt" x="30.2" y="317.1">0</text><text class="yt" x="30.2" y="297.85">0.2</text><text class="yt" x="30.2" y="278.6">0.4</text><text class="yt" x="30.2" y="259.35">0.6</text><text class="yt" x="30.2" y="240.1">0.8</text><text class="xl" x="83.3" y="333">time</text><text class="yl" transform="translate(17.4 275.9) rotate(-90)">BAC g/L</text>
<text class="lt" x="251.5" y="248.4">CW</text><text class="lt" x="251.5" y="255.6">NW</text><text class="ti" x="218" y="234.4">#22</text><text class="xt" x="167.7" y="323.8">T0</text><text class="xt" x="184.47" y="323.8">T20</text><text class="xt" x="201.23" y="323.8">T40</text><text class="xt" x="218" y="323.8">T60</text><text class="xt" x="234.77" y="323.8">T80</text><text class="xt" x="251.53" y="323.8">T100</text><text class="xt" x="268.3" y="323.8">T120</text><text class="yt" x="164.9" y="317.1">0</text><text class="yt" x="164.9" y="297.85">0.2</text><text class="yt" x="164.9" y="278.6">0.4</text><text class="yt" x="164.9" y="259.35">0.6</text><text class="yt" x="164.9" y="240.1">0.8</text><text class="xl" x="218" y="333">time</text><text class="yl" transform="translate(152.1 275.9) rotate(-90)">BAC g/L</text>
<text class="lt" x="386.2" y="248.4">CW</text><text class="lt" x="386.2" y="255.6">NW</text><text class="ti" x="352.7" y="234.4">#23</text><text class="xt" x="302.4" y="323.8">T0</text><text class="xt" x="319.17" y="323.8">T20</text><text class="xt" x="335.93" y="323.8">T40</text><text class="xt" x="352.7" y="323.8">T60</text><text class="xt" x="369.47" y="323.8">T80</text><text class="xt" x="386.23" y="323.8">T100</text><text class="xt" x="403" y="323.8">T120</text><text class="yt" x="299.6" y="317.1">0</text><text class="yt" x="299.6" y="297.85">0.2</text><text class="yt" x="299.6" y="278.6">0.4</text><text class="yt" x="299.6" y="259.35">0.6</text><text class="yt" x="299.6" y="240.1">0.8</text><text class="xl" x="352.7" y="333">time</text><text class="yl" transform="translate(286.8 275.9) rotate(-90)">BAC g/L</text>
<text class="lt" x="520.9" y="248.4">CW</text><text class="lt" x="520.9" y="255.6">NW</text><text class="ti" x="487.4" y="234.4">#24</text><text class="xt" x="437.1" y="323.8">T0</text><text class="xt" x="453.87" y="323.8">T20</text><text class="xt" x="470.63" y="323.8">T40</text><text class="xt" x="487.4" y="323.8">T60</text><text class="xt" x="504.17" y="323.8">T80</text><text class="xt" x="520.93" y="323.8">T100</text><text class="xt" x="537.7" y="323.8">T120</text><text class="yt" x="434.3" y="317.1">0</text><text class="yt" x="434.3" y="297.85">0.2</text><text class="yt" x="434.3" y="278.6">0.4</text><text class="yt" x="434.3" y="259.35">0.6</text><text class="yt" x="434.3" y="240.1">0.8</text><text class="xl" x="487.4" y="333">time</text><text class="yl" transform="translate(421.5 275.9) rotate(-90)">BAC g/L</text>
</g>
</svg>
</body></html>
